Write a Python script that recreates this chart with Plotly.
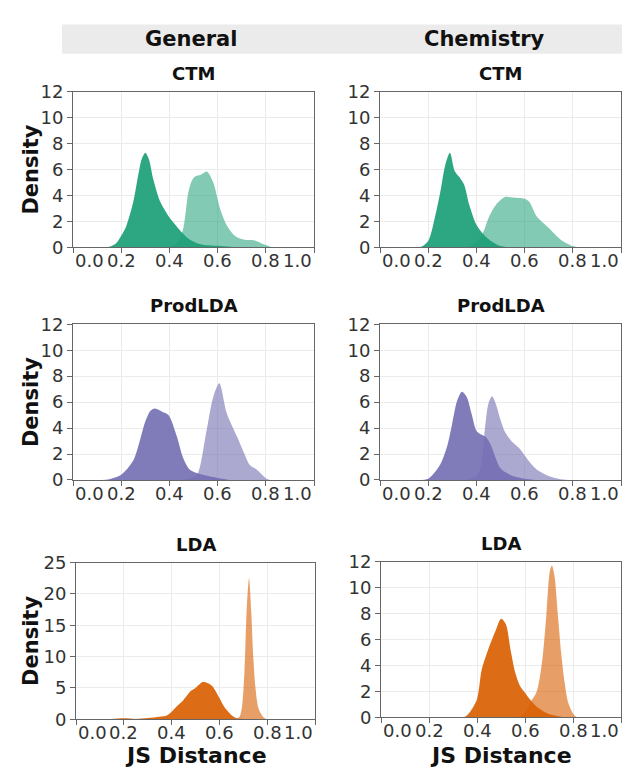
import plotly.graph_objects as go

W, H = 622, 776

# ---------------- data ----------------
columns = ["General", "Chemistry"]
models = ["CTM", "ProdLDA", "LDA"]

ctm_gen_dark_x = [0.10, 0.15, 0.18, 0.20, 0.22, 0.25, 0.27, 0.285, 0.30, 0.315, 0.333, 0.36, 0.38, 0.40, 0.42, 0.44, 0.46, 0.485, 0.53, 0.60, 0.65, 0.70]
ctm_gen_dark_y = [0, 0.05, 0.35, 0.9, 1.6, 3.5, 5.5, 6.8, 7.3, 6.8, 5.25, 3.6, 2.9, 2.3, 1.85, 1.4, 1.0, 0.6, 0.25, 0.12, 0.05, 0]
ctm_gen_light_x = [0.36, 0.40, 0.42, 0.44, 0.458, 0.478, 0.492, 0.506, 0.53, 0.555, 0.582, 0.61, 0.638, 0.665, 0.69, 0.71, 0.75, 0.79, 0.83]
ctm_gen_light_y = [0, 0.08, 0.2, 0.6, 1.5, 4.2, 5.1, 5.47, 5.6, 5.85, 5.0, 3.0, 1.7, 1.0, 0.7, 0.6, 0.55, 0.25, 0]

ctm_chem_dark_x = [0.12, 0.17, 0.20, 0.23, 0.25, 0.27, 0.29, 0.31, 0.33, 0.35, 0.37, 0.40, 0.43, 0.46, 0.50, 0.55]
ctm_chem_dark_y = [0, 0.05, 0.5, 2.5, 4.25, 6.3, 7.3, 5.9, 5.4, 4.8, 3.3, 1.75, 1.0, 0.5, 0.1, 0]
ctm_chem_light_x = [0.36, 0.40, 0.43, 0.45, 0.48, 0.52, 0.55, 0.60, 0.62, 0.65, 0.70, 0.75, 0.80, 0.83]
ctm_chem_light_y = [0, 0.4, 1.25, 2.25, 3.25, 3.9, 3.85, 3.75, 3.5, 2.4, 1.5, 0.6, 0.1, 0]

prod_gen_dark_x = [0.12, 0.15, 0.20, 0.25, 0.28, 0.30, 0.32, 0.34, 0.37, 0.396, 0.43, 0.458, 0.485, 0.527, 0.60, 0.65]
prod_gen_dark_y = [0, 0.05, 0.4, 1.5, 3.2, 4.5, 5.3, 5.5, 5.25, 5.0, 3.4, 1.65, 0.78, 0.45, 0.15, 0]
prod_gen_light_x = [0.45, 0.50, 0.52, 0.555, 0.582, 0.607, 0.638, 0.679, 0.707, 0.734, 0.762, 0.803, 0.82]
prod_gen_light_y = [0, 0.2, 0.6, 3.9, 6.4, 7.45, 5.15, 3.4, 2.2, 1.15, 0.8, 0.1, 0]

prod_chem_dark_x = [0.15, 0.20, 0.25, 0.28, 0.30, 0.32, 0.34, 0.36, 0.38, 0.40, 0.42, 0.44, 0.46, 0.48, 0.50, 0.55, 0.60, 0.65]
prod_chem_dark_y = [0, 0.1, 1.2, 2.7, 4.4, 6.1, 6.8, 6.4, 5.1, 3.8, 3.5, 3.3, 2.7, 1.7, 0.9, 0.3, 0.1, 0]
prod_chem_light_x = [0.36, 0.40, 0.42, 0.435, 0.45, 0.465, 0.48, 0.50, 0.52, 0.55, 0.58, 0.60, 0.62, 0.65, 0.70, 0.75, 0.78]
prod_chem_light_y = [0, 0.3, 1.2, 3.9, 5.9, 6.45, 5.9, 4.65, 3.65, 2.9, 2.4, 1.9, 1.4, 0.8, 0.3, 0.05, 0]

lda_gen_dark_x = [0.10, 0.15, 0.20, 0.25, 0.30, 0.35, 0.38, 0.40, 0.42, 0.45, 0.48, 0.50, 0.53, 0.55, 0.57, 0.60, 0.62, 0.65, 0.67, 0.70, 0.72]
lda_gen_dark_y = [0, 0.05, 0.15, 0.05, 0.2, 0.4, 0.6, 1.2, 2.0, 3.1, 4.5, 5.0, 5.95, 5.8, 5.3, 3.4, 2.0, 0.7, 0.2, 0.05, 0]
lda_gen_light_x = [0.67, 0.684, 0.694, 0.705, 0.714, 0.724, 0.733, 0.742, 0.751, 0.763, 0.777, 0.79, 0.80]
lda_gen_light_y = [0, 0.4, 1.8, 7.7, 17.4, 22.5, 17.4, 9.8, 5.0, 1.8, 0.7, 0.15, 0]

lda_chem_dark_x = [0.33, 0.35, 0.37, 0.40, 0.42, 0.45, 0.48, 0.50, 0.52, 0.54, 0.56, 0.58, 0.60, 0.62, 0.65, 0.70, 0.75, 0.78]
lda_chem_dark_y = [0, 0.05, 0.4, 1.4, 3.7, 5.4, 6.8, 7.6, 7.2, 5.2, 3.4, 2.4, 1.9, 1.4, 0.8, 0.25, 0.05, 0]
lda_chem_light_x = [0.55, 0.58, 0.60, 0.627, 0.647, 0.66, 0.675, 0.689, 0.703, 0.712, 0.723, 0.737, 0.751, 0.765, 0.779, 0.80, 0.813, 0.83]
lda_chem_light_y = [0, 0.1, 0.4, 1.3, 1.9, 2.9, 4.9, 7.9, 11.2, 11.7, 10.9, 7.9, 4.9, 2.7, 1.2, 0.3, 0.05, 0]

x_ticks = [0.0, 0.2, 0.4, 0.6, 0.8, 1.0]
x_tick_labels = ["0.0", "0.2", "0.4", "0.6", "0.8", "1.0"]
y_max = {"CTM": 12, "ProdLDA": 12, "LDA": [25, 12]}
y_dtick = {"CTM": 2, "ProdLDA": 2, "LDA": [5, 2]}

# ---------------- styling ----------------
dark_colors = {"CTM": "rgba(27,158,119,0.92)", "ProdLDA": "rgba(117,112,179,0.92)", "LDA": "rgba(217,95,2,0.92)"}
light_colors = {"CTM": "rgba(27,158,119,0.55)", "ProdLDA": "rgba(117,112,179,0.6)", "LDA": "rgba(217,95,2,0.6)"}

FONT = "DejaVu Sans"
TICK_SIZE = 18
TICK_COLOR = "#333333"
FRAME = "#666666"

# pixel boxes of each panel: (left, right, top, bottom)
boxes = {
    (0, 0): (73, 314, 83, 243), (0, 1): (380, 621, 83, 243),
    (1, 0): (73, 314, 322, 482), (1, 1): (380, 621, 322, 482),
    (2, 0): (76, 315, 567, 728), (2, 1): (381, 621, 566, 726),
}

series = {
    (0, 0): (ctm_gen_dark_x, ctm_gen_dark_y, ctm_gen_light_x, ctm_gen_light_y),
    (0, 1): (ctm_chem_dark_x, ctm_chem_dark_y, ctm_chem_light_x, ctm_chem_light_y),
    (1, 0): (prod_gen_dark_x, prod_gen_dark_y, prod_gen_light_x, prod_gen_light_y),
    (1, 1): (prod_chem_dark_x, prod_chem_dark_y, prod_chem_light_x, prod_chem_light_y),
    (2, 0): (lda_gen_dark_x, lda_gen_dark_y, lda_gen_light_x, lda_gen_light_y),
    (2, 1): (lda_chem_dark_x, lda_chem_dark_y, lda_chem_light_x, lda_chem_light_y),
}

fig = go.Figure()
layout = {}
annotations = []
shapes = []

def px_x(p):
    return p / W

def px_y(p):
    return 1 - p / H

idx = 0
for r, model in enumerate(models):
    for c, col in enumerate(columns):
        idx += 1
        l, rr, t, b = boxes[(r, c)]
        xa = "x" if idx == 1 else f"x{idx}"
        ya = "y" if idx == 1 else f"y{idx}"
        xk = "xaxis" if idx == 1 else f"xaxis{idx}"
        yk = "yaxis" if idx == 1 else f"yaxis{idx}"
        dx, dy, lx, ly = series[(r, c)]
        ymax = y_max[model] if not isinstance(y_max[model], list) else y_max[model][c]
        ydt = y_dtick[model] if not isinstance(y_dtick[model], list) else y_dtick[model][c]

        fig.add_trace(go.Scatter(x=lx, y=ly, xaxis=xa, yaxis=ya, mode="lines",
                                 line=dict(width=0, shape="spline", smoothing=0.8),
                                 fill="tozeroy", fillcolor=light_colors[model],
                                 hoverinfo="skip", showlegend=False))
        fig.add_trace(go.Scatter(x=dx, y=dy, xaxis=xa, yaxis=ya, mode="lines",
                                 line=dict(width=0, shape="spline", smoothing=0.8),
                                 fill="tozeroy", fillcolor=dark_colors[model],
                                 hoverinfo="skip", showlegend=False))

        layout[xk] = dict(domain=[px_x(l), px_x(rr)], anchor=ya, range=[0, 1],
                          tickvals=x_ticks, ticktext=["" for _ in x_ticks],
                          showgrid=True, gridcolor="#ebebeb", gridwidth=1,
                          showline=True, linecolor=FRAME, linewidth=1, mirror=True,
                          ticks="outside", ticklen=5, tickcolor=FRAME,
                          tickfont=dict(family=FONT, size=TICK_SIZE, color=TICK_COLOR),
                          zeroline=False, fixedrange=True)
        layout[yk] = dict(domain=[px_y(b), px_y(t)], anchor=xa, range=[0, ymax],
                          dtick=ydt, tick0=0,
                          showgrid=True, gridcolor="#ebebeb", gridwidth=1,
                          showline=True, linecolor=FRAME, linewidth=1, mirror=True,
                          ticks="outside", ticklen=5, tickcolor=FRAME,
                          tickfont=dict(family=FONT, size=TICK_SIZE, color=TICK_COLOR),
                          zeroline=False, fixedrange=True)

        # x tick labels (first/last flush with the axis ends)
        for i, (v, lab) in enumerate(zip(x_ticks, x_tick_labels)):
            anc = "left" if i == 0 else ("right" if i == len(x_ticks) - 1 else "center")
            annotations.append(dict(x=v, xref=xa, y=0, yref=f"{ya} domain",
                                    text=lab, showarrow=False,
                                    xanchor=anc, yanchor="top", yshift=-1,
                                    font=dict(family=FONT, size=TICK_SIZE, color=TICK_COLOR)))

        # panel title
        annotations.append(dict(x=(l + rr) / 2 / W, xref="paper", y=px_y(t - 6), yref="paper",
                                text=f"<b>{model}</b>", showarrow=False,
                                xanchor="center", yanchor="bottom",
                                font=dict(family=FONT, size=18, color="#111111")))

        if c == 0:
            annotations.append(dict(x=px_x(31), xref="paper", y=px_y((t + b) / 2), yref="paper",
                                    text="<b>Density</b>", showarrow=False, textangle=-90,
                                    xanchor="center", yanchor="middle",
                                    font=dict(family=FONT, size=21, color="#111111")))
        if r == 2:
            annotations.append(dict(x=(l + rr) / 2 / W, xref="paper", y=px_y(765), yref="paper",
                                    text="<b>JS Distance</b>", showarrow=False,
                                    xanchor="center", yanchor="middle",
                                    font=dict(family=FONT, size=22, color="#111111")))

# column header band
shapes.append(dict(type="rect", xref="paper", yref="paper",
                   x0=px_x(62), x1=1, y0=px_y(44), y1=px_y(14),
                   fillcolor="#ebebeb", line=dict(width=0), layer="below"))
for cx, name in ((191, columns[0]), (484, columns[1])):
    annotations.append(dict(x=px_x(cx), xref="paper", y=px_y(29), yref="paper",
                            text=f"<b>{name}</b>", showarrow=False,
                            xanchor="center", yanchor="middle",
                            font=dict(family=FONT, size=21, color="#111111")))

fig.update_layout(width=W, height=H, margin=dict(l=0, r=0, t=0, b=0),
                  paper_bgcolor="white", plot_bgcolor="white",
                  annotations=annotations, shapes=shapes, **layout)

fig.write_html("out.html", post_script="document.body.style.margin='0';")
